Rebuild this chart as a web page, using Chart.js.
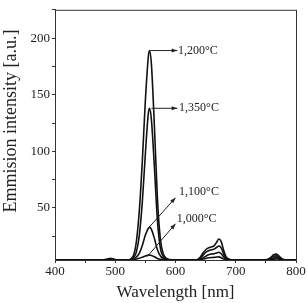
<!DOCTYPE html>
<html>
<head>
<meta charset="utf-8">
<script src="https://cdn.jsdelivr.net/npm/chart.js@4"></script>
<style>
  html, body { margin: 0; padding: 0; background: #fff; }
  #wrap { width: 308px; height: 303px; }
</style>
</head>
<body>
<div id="wrap"><canvas id="chart" width="308" height="303"></canvas></div>
<script>
    // wavelengths (nm) shared by all four spectra
    const wavelengths = [400, 450, 480, 486, 492, 498, 505, 515, 522, 527, 531, 535, 540, 545, 550, 555, 557, 560, 565, 570, 575, 580, 585, 590, 600, 620, 635, 641, 646, 651, 656, 660, 664, 668, 672, 676, 680, 684, 689, 695, 740, 752, 758, 763, 767, 771, 776, 782, 800];

    const temp1000 = [4, 4, 4, 4, 4.5, 4, 4, 4, 4, 4, 4.3, 4.8, 5.5, 6.5, 7.6, 8.3, 8.3, 8, 6.8, 5.4, 4.6, 4.2, 4, 4, 4, 4, 4, 4.3, 4.8, 5.5, 6, 6.2, 6.3, 6.6, 6.8, 6, 4.8, 4.2, 4, 4, 4, 4, 4.3, 4.8, 5, 4.7, 4.3, 4, 4];
    const temp1100 = [4, 4, 4, 4.2, 4.8, 4.2, 4, 4, 4, 4.3, 5, 6.5, 10, 17, 26, 32, 33, 31, 23, 13, 7.5, 5.3, 4.5, 4.1, 4, 4, 4, 4.6, 6, 7.6, 8.8, 9.3, 9.6, 10.2, 10.8, 9.5, 6.6, 4.8, 4.2, 4, 4, 4.1, 4.8, 5.8, 6.2, 5.6, 4.6, 4.1, 4];
    const temp1200 = [4, 4, 4.2, 4.6, 5.6, 4.7, 4.1, 4, 4, 5.5, 9, 20, 48, 92, 145, 184, 189, 177, 122, 58, 22, 9, 5.5, 4.4, 4, 4, 4.2, 6.5, 10.5, 13.5, 15, 15.6, 16.5, 19.5, 22.5, 20, 12.5, 6.8, 4.6, 4, 4, 4.3, 6.3, 8.6, 9.2, 7.8, 5.4, 4.2, 4];
    const temp1350 = [4, 4, 4.1, 4.4, 5.1, 4.4, 4.1, 4, 4, 4.6, 6.5, 11, 26, 56, 98, 134, 138, 128, 86, 39, 14, 6.8, 4.8, 4.2, 4, 4, 4.1, 5.5, 8.5, 11.2, 12.5, 13, 13.6, 15, 16.3, 14.5, 9.2, 5.8, 4.4, 4, 4, 4.2, 5.6, 7.2, 7.6, 6.6, 5, 4.1, 4];

    const seriesLabels = ['1,000°C', '1,100°C', '1,200°C', '1,350°C'];
    const xTicks = [400, 450, 500, 550, 600, 650, 700, 750, 800];
    const yTicks = [25, 50, 75, 100, 125, 150, 175, 200, 225];

    // arrow annotations: [fromX, fromY, toX, toY, textX, textY, label]
    const arrows = [
        [558, 189, 603, 189, 604, 189, '1,200°C'],
        [560, 138, 603, 138, 606, 138, '1,350°C'],
        [553, 31, 600, 59, 606, 64, '1,100°C'],
        [553, 7, 600, 36, 602, 40, '1,000°C']
    ];

    const serif = "'Liberation Serif', 'DejaVu Serif', serif";
    const ink = '#222';

    function toPoints(ys) {
        return wavelengths.map((x, i) => ({ x: x, y: ys[i] }));
    }

    const framePlugin = {
        id: 'frame',
        afterDatasetsDraw(chart) {
            const { ctx, chartArea: a, scales } = chart;
            ctx.save();
            ctx.strokeStyle = '#333';
            ctx.lineWidth = 1;
            ctx.strokeRect(a.left + 0.5, a.top + 0.5, a.right - a.left, a.bottom - a.top);

            // y axis title, sits a little above the plot centre like the original
            ctx.save();
            ctx.translate(11, 121);
            ctx.rotate(-Math.PI / 2);
            ctx.fillStyle = ink;
            ctx.font = '18px ' + serif;
            ctx.textAlign = 'center';
            ctx.textBaseline = 'middle';
            ctx.fillText('Emmision intensity [a.u.]', 0, 0);
            ctx.restore();

            ctx.strokeStyle = ink;
            ctx.fillStyle = ink;
            ctx.font = '12px ' + serif;
            ctx.textBaseline = 'middle';
            arrows.forEach(ar => {
                const x1 = scales.x.getPixelForValue(ar[0]);
                const y1 = scales.y.getPixelForValue(ar[1]);
                const x2 = scales.x.getPixelForValue(ar[2]);
                const y2 = scales.y.getPixelForValue(ar[3]);
                ctx.lineWidth = 1;
                ctx.beginPath();
                ctx.moveTo(x1, y1);
                ctx.lineTo(x2, y2);
                ctx.stroke();
                const ang = Math.atan2(y2 - y1, x2 - x1);
                ctx.beginPath();
                ctx.moveTo(x2, y2);
                ctx.lineTo(x2 - 6 * Math.cos(ang - 0.35), y2 - 6 * Math.sin(ang - 0.35));
                ctx.lineTo(x2 - 6 * Math.cos(ang + 0.35), y2 - 6 * Math.sin(ang + 0.35));
                ctx.closePath();
                ctx.fill();
                ctx.fillText(ar[6], scales.x.getPixelForValue(ar[4]), scales.y.getPixelForValue(ar[5]));
            });
            ctx.restore();
        }
    };

    const lineStyle = {
        borderColor: '#111',
        borderWidth: 1.6,
        pointRadius: 0,
        fill: false,
        cubicInterpolationMode: 'monotone'
    };

    new Chart(document.getElementById('chart').getContext('2d'), {
        type: 'line',
        data: {
            datasets: [
                Object.assign({ label: seriesLabels[0], data: toPoints(temp1000) }, lineStyle),
                Object.assign({ label: seriesLabels[1], data: toPoints(temp1100) }, lineStyle),
                Object.assign({ label: seriesLabels[2], data: toPoints(temp1200) }, lineStyle),
                Object.assign({ label: seriesLabels[3], data: toPoints(temp1350) }, lineStyle)
            ]
        },
        options: {
            responsive: false,
            animation: false,
            layout: { padding: { top: 8, right: 12, left: 0, bottom: 0 } },
            plugins: { legend: { display: false }, tooltip: { enabled: false } },
            scales: {
                x: {
                    type: 'linear',
                    min: 400,
                    max: 800,
                    afterBuildTicks: s => { s.ticks = xTicks.map(v => ({ value: v })); },
                    afterFit: s => { s.height = 43; },
                    grid: { drawOnChartArea: false, tickLength: 3, color: '#333' },
                    border: { color: '#333' },
                    ticks: {
                        autoSkip: false,
                        maxRotation: 0,
                        padding: 1,
                        color: ink,
                        font: { family: serif, size: 13 },
                        callback: v => (v % 100 === 0 ? v : '')
                    },
                    title: {
                        display: true,
                        text: 'Wavelength [nm]',
                        color: ink,
                        font: { family: serif, size: 17 },
                        padding: { top: 0, bottom: 0 }
                    }
                },
                y: {
                    min: 4,
                    max: 225,
                    afterBuildTicks: s => { s.ticks = yTicks.map(v => ({ value: v })); },
                    afterFit: s => { s.width = 55; },
                    grid: { drawOnChartArea: false, tickLength: 3, color: '#333' },
                    border: { color: '#333' },
                    ticks: {
                        autoSkip: false,
                        padding: 2,
                        color: ink,
                        font: { family: serif, size: 13 },
                        callback: v => (v % 50 === 0 && v !== 0 ? v : '')
                    },
                    title: { display: false }
                }
            }
        },
        plugins: [framePlugin]
    });
</script>
</body>
</html>
